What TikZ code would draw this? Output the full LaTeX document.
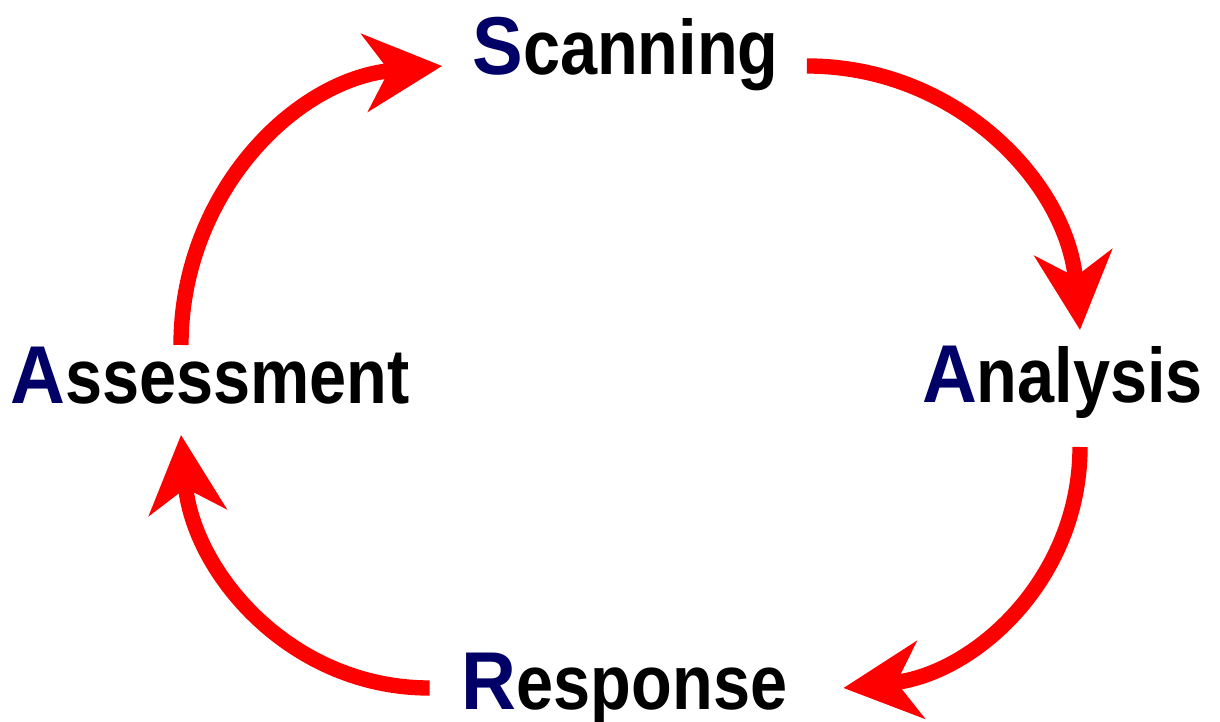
\documentclass[tikz,border=0pt]{standalone}
\usepackage{fontspec}
\setmainfont{Liberation Sans}
\usepackage{graphicx}
\usepackage{tikz}
\usetikzlibrary{arrows.meta}
\definecolor{navy}{HTML}{000066}
\definecolor{loopred}{HTML}{FF0000}
\newcommand{\capletter}[1]{\scalebox{1}[1.08]{\fontsize{57pt}{57pt}\selectfont\color{navy}#1}}
\newcommand{\restword}[1]{\scalebox{1}[1.16]{#1}}
\tikzset{
  stage/.style={font=\fontsize{50pt}{50pt}\selectfont\bfseries, inner sep=0pt, anchor=base},
  loopline/.style={draw=loopred, line width=11.5pt,
    -{Stealth[length=58pt, width=58pt, inset=18pt]}}
}

\begin{document}
\begin{tikzpicture}[x=0.75pt, y=0.75pt]
  \useasboundingbox (0,0) rectangle (1220,721);

  \node[stage] (scan) at (625.5,646) {\capletter{S}\restword{canning}};
  \node[stage] (anal) at (1062.5,318) {\capletter{A}\restword{nalysis}};
  \node[stage] (resp) at (624.5,12) {\capletter{R}\restword{esponse}};
  \node[stage] (asse) at (210,317) {\capletter{A}\restword{ssessment}};

  \draw[loopline] ([shift={(-29,59)}]asse.base) to[out=90, in=185] ([shift={(-30,9)}]scan.base west);
  \draw[loopline] ([shift={(28,9)}]scan.base east) to[out=0, in=95] ([shift={(17.5,73)}]anal.base);
  \draw[loopline] ([shift={(17.5,-44)}]anal.base) to[out=-90, in=6] ([shift={(56,21)}]resp.base east);
  \draw[loopline] ([shift={(-32,21)}]resp.base west) to[out=180, in=275] ([shift={(-29,-31)}]asse.base);
\end{tikzpicture}
\end{document}
